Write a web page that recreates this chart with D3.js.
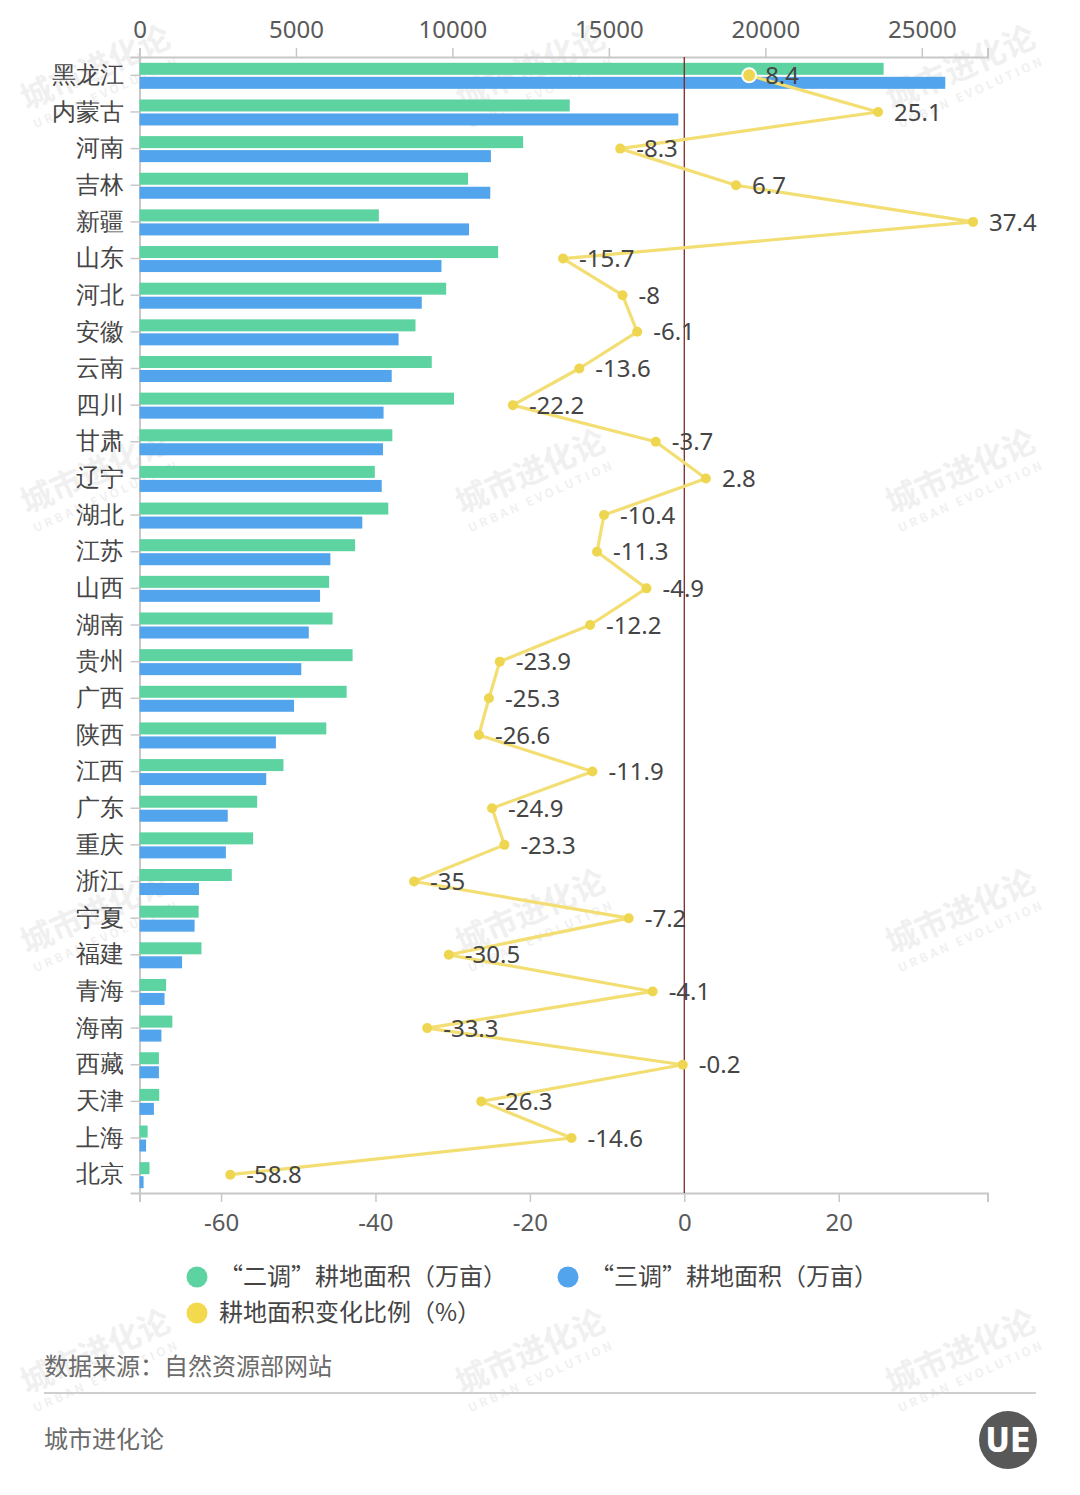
<!DOCTYPE html>
<html>
<head>
<meta charset="utf-8">
<script src="https://cdn.jsdelivr.net/npm/d3@7"></script>
<style>
    body { margin: 0; background: #fff; }
    svg { display: block; font-family: "Noto Sans CJK SC", "Noto Sans", sans-serif; }
</style>
</head>
<body>
<script>

// data
const provinces = ["黑龙江", "内蒙古", "河南", "吉林", "新疆", "山东", "河北", "安徽", "云南", "四川",
    "甘肃", "辽宁", "湖北", "江苏", "山西", "湖南", "贵州", "广西", "陕西", "江西",
    "广东", "重庆", "浙江", "宁夏", "福建", "青海", "海南", "西藏", "天津", "上海", "北京"];

const area_second_survey = [23780, 13750, 12260, 10500, 7650, 11460, 9800, 8820, 9340, 10050,
    8080, 7520, 7950, 6890, 6060, 6170, 6810, 6620, 5970, 4600,
    3760, 3630, 2950, 1890, 1980, 850, 1050, 620, 630, 260, 320];

const area_third_survey = [25750, 17220, 11230, 11210, 10530, 9650, 9020, 8280, 8060, 7800,
    7780, 7740, 7120, 6100, 5770, 5410, 5170, 4940, 4360, 4050,
    2820, 2760, 1900, 1760, 1360, 800, 700, 620, 460, 210, 130];

const change_ratio = [8.4, 25.1, -8.3, 6.7, 37.4, -15.7, -8, -6.1, -13.6, -22.2,
    -3.7, 2.8, -10.4, -11.3, -4.9, -12.2, -23.9, -25.3, -26.6, -11.9,
    -24.9, -23.3, -35, -7.2, -30.5, -4.1, -33.3, -0.2, -26.3, -14.6, -58.8];

const area_ticks = [0, 5000, 10000, 15000, 20000, 25000];
const ratio_ticks = [-60, -40, -20, 0, 20];

const legend_items = [
    {label: "“二调”耕地面积（万亩）", color: "#5dd3a2"},
    {label: "“三调”耕地面积（万亩）", color: "#52a4ec"},
    {label: "耕地面积变化比例（%）", color: "#f3d94e"}
];

// setup
const WIDTH = 1080;
const HEIGHT = 1495;
const LEFT = 139.5, RIGHT = 987.5, TOP = 57, BOTTOM = 1193;
const COLOR_GREEN = "#5dd3a2";
const COLOR_BLUE = "#52a4ec";
const COLOR_LINE = "#f2de72";
const COLOR_DOT = "#efd650";
const TEXT_DARK = "#454545";
const TEXT_AXIS = "#595959";

const svg = d3.select("body")
    .append("svg")
    .attr("width", WIDTH)
    .attr("height", HEIGHT);

// watermarks in the background
const watermark_layer = svg.append("g").attr("class", "Watermarks");
[78, 482, 922, 1362].forEach(wy => {
    [100, 535, 965].forEach(wx => {
        const mark = watermark_layer.append("g")
            .attr("transform", `translate(${wx},${wy}) rotate(-24)`)
            .attr("fill", "#000")
            .attr("opacity", 0.055);
        mark.append("text")
            .attr("text-anchor", "middle")
            .attr("font-size", 32)
            .attr("font-weight", 700)
            .text("城市进化论");
        mark.append("text")
            .attr("text-anchor", "middle")
            .attr("y", 20)
            .attr("font-size", 12)
            .attr("font-weight", 700)
            .attr("letter-spacing", 3)
            .text("URBAN EVOLUTION");
    });
});

const x_area = d3.scaleLinear()
    .domain([0, 27100])
    .range([LEFT, RIGHT]);

const x_ratio = d3.scaleLinear()
    .domain([-70.56, 39.27])
    .range([LEFT, RIGHT]);

const y_band = d3.scaleBand()
    .domain(provinces)
    .range([TOP, BOTTOM]);

const band_center = name => y_band(name) + y_band.bandwidth() / 2;

const rows = provinces.map((name, i) => ({
    name,
    second: area_second_survey[i],
    third: area_third_survey[i],
    ratio: change_ratio[i]
}));

// top axis (area)
const top_axis = svg.append("g")
    .attr("transform", `translate(0,${TOP})`)
    .call(d3.axisTop(x_area).tickValues(area_ticks).tickSize(9).tickPadding(10).tickFormat(d => String(d)));

// bottom axis (ratio)
const bottom_axis = svg.append("g")
    .attr("transform", `translate(0,${BOTTOM})`)
    .call(d3.axisBottom(x_ratio).tickValues(ratio_ticks).tickSize(9).tickPadding(12).tickFormat(d => String(d)));

[top_axis, bottom_axis].forEach(axis => {
    axis.select(".domain").attr("stroke", "#c8c8c8").attr("stroke-width", 2);
    axis.selectAll(".tick line").attr("stroke", "#c8c8c8").attr("stroke-width", 1.5);
    axis.selectAll(".tick text")
        .attr("fill", TEXT_AXIS)
        .attr("font-size", 24)
        .attr("font-family", "\"Noto Sans\", \"Noto Sans CJK SC\", sans-serif");
});

// left category axis
const left_axis = svg.append("g")
    .attr("transform", `translate(${LEFT},0)`)
    .call(d3.axisLeft(y_band).tickSize(9).tickPadding(7));
left_axis.select(".domain").attr("stroke", "#c8c8c8").attr("stroke-width", 2);
left_axis.selectAll(".tick line").attr("stroke", "#c8c8c8").attr("stroke-width", 1.5);
left_axis.selectAll(".tick text")
    .attr("fill", TEXT_DARK)
    .attr("font-size", 24);

// bars
const bars = svg.append("g").attr("class", "Bars");

bars.selectAll("rect.Second")
    .data(rows)
    .enter()
    .append("rect")
    .attr("class", "Second")
    .attr("x", x_area(0))
    .attr("y", d => band_center(d.name) - 12.5)
    .attr("width", d => x_area(d.second) - x_area(0))
    .attr("height", 12)
    .attr("fill", COLOR_GREEN);

bars.selectAll("rect.Third")
    .data(rows)
    .enter()
    .append("rect")
    .attr("class", "Third")
    .attr("x", x_area(0))
    .attr("y", d => band_center(d.name) + 1.5)
    .attr("width", d => x_area(d.third) - x_area(0))
    .attr("height", 12)
    .attr("fill", COLOR_BLUE);

// zero line of the ratio axis
svg.append("line")
    .attr("x1", x_ratio(0))
    .attr("x2", x_ratio(0))
    .attr("y1", TOP)
    .attr("y2", BOTTOM)
    .attr("stroke", "#7a2a2a")
    .attr("stroke-width", 1.3);

// ratio line
const ratio_line = d3.line()
    .x(d => x_ratio(d.ratio))
    .y(d => band_center(d.name));

const lines = svg.append("g").attr("class", "Lines");

lines.append("path")
    .datum(rows)
    .attr("d", ratio_line)
    .attr("fill", "none")
    .attr("stroke", COLOR_LINE)
    .attr("stroke-width", 3.2)
    .attr("stroke-linejoin", "round");

lines.selectAll("circle")
    .data(rows)
    .enter()
    .append("circle")
    .attr("cx", d => x_ratio(d.ratio))
    .attr("cy", d => band_center(d.name))
    .attr("r", (d, i) => i === 0 ? 7 : 5)
    .attr("fill", COLOR_DOT)
    .attr("stroke", (d, i) => i === 0 ? "#fff" : "none")
    .attr("stroke-width", 2);

lines.selectAll("text")
    .data(rows)
    .enter()
    .append("text")
    .attr("x", d => x_ratio(d.ratio) + 16)
    .attr("y", d => band_center(d.name))
    .attr("dy", "0.36em")
    .attr("fill", TEXT_DARK)
    .attr("font-size", 24)
    .attr("font-family", "\"Noto Sans\", sans-serif")
    .text(d => d.ratio);

// legend
const legend_positions = [[197, 1277], [568, 1277], [197, 1313]];
const legend = svg.append("g").attr("class", "Legend");

legend_items.forEach((item, i) => {
    const [lx, ly] = legend_positions[i];
    legend.append("circle")
        .attr("cx", lx)
        .attr("cy", ly)
        .attr("r", 10.5)
        .attr("fill", item.color);
    legend.append("text")
        .attr("x", lx + 22)
        .attr("y", ly)
        .attr("dy", "0.35em")
        .attr("fill", TEXT_DARK)
        .attr("font-size", 24)
        .text(item.label);
});

// footer
svg.append("text")
    .attr("x", 44)
    .attr("y", 1367)
    .attr("dy", "0.35em")
    .attr("fill", "#6b6b6b")
    .attr("font-size", 24)
    .text("数据来源：自然资源部网站");

svg.append("line")
    .attr("x1", 44)
    .attr("x2", 1036)
    .attr("y1", 1393)
    .attr("y2", 1393)
    .attr("stroke", "#cfcfcf")
    .attr("stroke-width", 2);

svg.append("text")
    .attr("x", 44)
    .attr("y", 1440)
    .attr("dy", "0.35em")
    .attr("fill", "#6b6b6b")
    .attr("font-size", 24)
    .text("城市进化论");

const logo = svg.append("g").attr("transform", "translate(1008,1440)");
logo.append("circle")
    .attr("r", 29)
    .attr("fill", "#585858");
logo.append("text")
    .attr("text-anchor", "middle")
    .attr("dy", "0.36em")
    .attr("fill", "#fff")
    .attr("font-size", 34)
    .attr("font-weight", 700)
    .attr("font-family", "\"DejaVu Sans Condensed\", sans-serif")
    .text("UE");

</script>
</body>
</html>
